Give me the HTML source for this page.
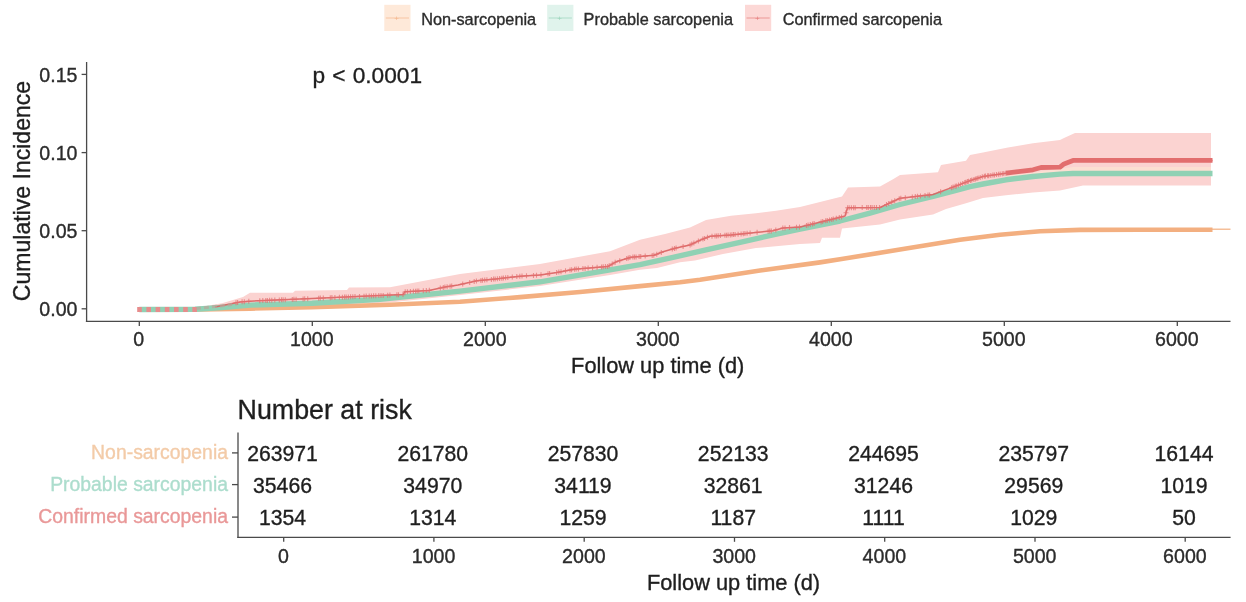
<!DOCTYPE html>
<html lang="en"><head><meta charset="utf-8"><title>Cumulative incidence</title>
<style>html,body{margin:0;padding:0;background:#fff}svg{display:block;filter:blur(0.4px)}text{font-family:"Liberation Sans", Arial, sans-serif;}text{stroke-width:0.35px;paint-order:stroke}</style></head><body>
<svg width="1246" height="602" viewBox="0 0 1246 602">
<rect width="1246" height="602" fill="#fff"/>
<rect x="384.3" y="4.8" width="26.2" height="26.2" fill="#FEE9D9"/>
<line x1="385.8" y1="18.0" x2="409.0" y2="18.0" stroke="#F3AF80" stroke-width="1.2" opacity="0.5"/>
<text x="396.7" y="21.4" font-size="8" text-anchor="middle" fill="#F3AF80" opacity="0.8">+</text>
<text x="421.2" y="24.6" font-size="16.3" fill="#2b2b2b" stroke="#2b2b2b">Non-sarcopenia</text>
<rect x="547.2" y="4.8" width="26.2" height="26.2" fill="#E0F3EC"/>
<line x1="548.7" y1="18.0" x2="571.9000000000001" y2="18.0" stroke="#90D1B4" stroke-width="1.2" opacity="0.5"/>
<text x="559.6" y="21.4" font-size="8" text-anchor="middle" fill="#90D1B4" opacity="0.8">+</text>
<text x="583.6" y="24.6" font-size="16.3" fill="#2b2b2b" stroke="#2b2b2b">Probable sarcopenia</text>
<rect x="745.0" y="4.8" width="26.2" height="26.2" fill="#FCD8D6"/>
<line x1="746.5" y1="18.0" x2="769.7" y2="18.0" stroke="#E26E6E" stroke-width="1.2" opacity="0.5"/>
<text x="757.4" y="21.4" font-size="8" text-anchor="middle" fill="#E26E6E" opacity="0.8">+</text>
<text x="782.7" y="24.6" font-size="16.3" fill="#2b2b2b" stroke="#2b2b2b">Confirmed sarcopenia</text>
<polygon points="139.3,307.4 200.0,307.0 222.0,303.2 243.0,297.0 250.0,292.8 293.0,292.8 295.0,290.7 347.0,290.1 349.0,287.6 390.0,287.2 460.0,273.9 540.0,263.9 610.0,251.2 640.0,239.8 665.0,234.0 690.0,227.4 706.0,219.9 731.0,215.7 756.0,213.3 776.0,210.8 800.0,207.0 830.0,199.5 842.0,196.6 848.0,187.4 880.0,186.6 893.0,179.3 900.0,175.0 938.0,172.3 941.0,164.9 966.0,160.7 970.0,154.9 983.0,152.4 1008.0,147.4 1033.0,143.3 1060.0,139.9 1064.0,137.9 1075.0,133.0 1211.0,133.0 1211.0,185.4 1083.0,185.4 1060.0,190.6 1033.0,192.6 1006.0,195.2 983.0,198.0 966.0,203.2 946.0,209.0 933.0,214.5 900.0,219.5 880.0,224.5 842.0,228.5 840.0,237.8 822.0,237.8 820.0,243.1 800.0,244.0 773.0,246.5 756.0,248.1 723.0,254.0 695.0,260.6 680.0,262.3 657.0,268.0 640.0,269.7 610.0,275.0 540.0,286.0 460.0,295.0 390.0,302.5 312.0,305.5 250.0,308.0 139.3,312.0" fill="#FBD3D1"/>
<polygon points="1006,176 1040,171.5 1073,167 1211,167 1211,171 1073,171 1040,174 1006,178" fill="#FCDFD2"/>
<polyline points="139.3,309.6 200.0,309.4 250.0,308.6 312.0,307.1 390.0,304.7 460.0,301.8 520.0,297.1 580.0,292.0 640.0,286.1 680.0,282.2 700.0,279.7 760.0,270.6 820.0,262.4 840.0,259.3 900.0,249.6 960.0,239.8 1000.0,234.7 1040.0,231.3 1080.0,229.9 1140.0,229.7 1212.5,229.7" fill="none" stroke="#F3AF80" stroke-width="4.6" stroke-linejoin="round"/>
<line x1="1212" y1="229.2" x2="1230.5" y2="229.2" stroke="#F3AF80" stroke-width="1.2"/>
<polyline points="139.3,309.5 195.0,309.3 222.0,307.5 250.0,305.1 312.0,303.2 380.0,299.3 460.0,291.1 540.0,281.8 610.0,269.8 640.0,264.6 673.0,257.3 706.0,249.8 740.0,242.3 773.0,234.9 800.0,229.1 840.0,221.0 870.0,213.1 900.0,204.5 933.0,196.5 955.0,190.6 970.0,186.6 983.0,184.0 1006.0,179.8 1033.0,176.5 1060.0,174.1 1073.0,173.5 1212.5,173.5" fill="none" stroke="#90D1B4" stroke-width="5.4" stroke-linejoin="round"/>
<polyline points="215.0,307.0 240.0,302.0 250.0,301.2 312.0,298.5 385.0,295.3 403.0,294.6 405.0,291.8 429.0,290.4 445.0,287.0 458.0,285.1 477.0,280.8 496.0,278.9 520.0,276.2 540.0,275.0 557.0,272.4 574.0,269.3 608.0,266.4 616.0,261.8 631.0,257.3 654.0,255.3 663.0,251.7 676.0,248.0 690.0,244.9 700.0,240.2 710.0,236.3 731.0,234.9 756.0,232.4 773.0,230.7 783.0,228.0 800.0,227.0 830.0,219.8 845.0,216.0 847.5,207.7 880.0,207.5 900.0,198.3 933.0,194.5 955.0,186.4 970.0,180.6 983.0,176.5 1006.0,173.2 1033.0,169.8 1041.0,167.5 1060.0,167.2 1064.0,163.9 1073.0,160.4 1212.5,160.4" fill="none" stroke="#D9605F" stroke-width="1.5" stroke-linejoin="round" opacity="0.9"/>
<path d="M236.0 300.3v5M233.5 302.8h5M237.6 300.0v5M235.1 302.5h5M242.1 299.3v5M239.6 301.8h5M244.3 299.2v5M241.8 301.7h5M248.8 298.8v5M246.3 301.3h5M259.8 298.3v5M257.3 300.8h5M262.8 298.1v5M260.3 300.6h5M265.8 298.0v5M263.3 300.5h5M267.4 297.9v5M264.9 300.4h5M269.6 297.8v5M267.1 300.3h5M271.8 297.8v5M269.3 300.3h5M274.8 297.6v5M272.3 300.1h5M279.3 297.4v5M276.8 299.9h5M281.5 297.3v5M279.0 299.8h5M283.1 297.3v5M280.6 299.8h5M285.3 297.2v5M282.8 299.7h5M292.3 296.9v5M289.8 299.4h5M293.9 296.8v5M291.4 299.3h5M296.1 296.7v5M293.6 299.2h5M303.1 296.4v5M300.6 298.9h5M304.7 296.3v5M302.2 298.8h5M307.7 296.2v5M305.2 298.7h5M318.7 295.7v5M316.2 298.2h5M320.3 295.6v5M317.8 298.1h5M323.3 295.5v5M320.8 298.0h5M330.3 295.2v5M327.8 297.7h5M331.9 295.1v5M329.4 297.6h5M334.9 295.0v5M332.4 297.5h5M339.4 294.8v5M336.9 297.3h5M342.4 294.7v5M339.9 297.2h5M344.6 294.6v5M342.1 297.1h5M346.2 294.5v5M343.7 297.0h5M348.4 294.4v5M345.9 296.9h5M350.6 294.3v5M348.1 296.8h5M352.8 294.2v5M350.3 296.7h5M355.0 294.1v5M352.5 296.6h5M359.5 293.9v5M357.0 296.4h5M364.0 293.7v5M361.5 296.2h5M366.2 293.6v5M363.7 296.1h5M369.2 293.5v5M366.7 296.0h5M371.4 293.4v5M368.9 295.9h5M373.6 293.3v5M371.1 295.8h5M375.8 293.2v5M373.3 295.7h5M378.8 293.1v5M376.3 295.6h5M381.0 293.0v5M378.5 295.5h5M383.2 292.9v5M380.7 295.4h5M387.7 292.7v5M385.2 295.2h5M389.9 292.6v5M387.4 295.1h5M396.9 292.3v5M394.4 294.8h5M398.5 292.3v5M396.0 294.8h5M403.0 292.1v5M400.5 294.6h5M405.2 289.3v5M402.7 291.8h5M407.4 289.2v5M404.9 291.7h5M410.4 289.0v5M407.9 291.5h5M413.4 288.8v5M410.9 291.3h5M415.6 288.7v5M413.1 291.2h5M417.2 288.6v5M414.7 291.1h5M418.8 288.5v5M416.3 291.0h5M423.3 288.2v5M420.8 290.7h5M426.3 288.1v5M423.8 290.6h5M429.3 287.8v5M426.8 290.3h5M440.3 285.5v5M437.8 288.0h5M443.3 284.9v5M440.8 287.4h5M444.9 284.5v5M442.4 287.0h5M447.1 284.2v5M444.6 286.7h5M450.1 283.8v5M447.6 286.3h5M451.7 283.5v5M449.2 286.0h5M462.7 281.5v5M460.2 284.0h5M469.7 280.0v5M467.2 282.5h5M474.2 278.9v5M471.7 281.4h5M476.4 278.4v5M473.9 280.9h5M480.9 277.9v5M478.4 280.4h5M482.5 277.8v5M480.0 280.2h5M484.7 277.5v5M482.2 280.0h5M486.9 277.3v5M484.4 279.8h5M491.4 276.9v5M488.9 279.4h5M493.6 276.6v5M491.1 279.1h5M495.2 276.5v5M492.7 279.0h5M497.4 276.2v5M494.9 278.7h5M499.6 276.0v5M497.1 278.5h5M501.8 275.7v5M499.3 278.2h5M503.4 275.6v5M500.9 278.1h5M505.6 275.3v5M503.1 277.8h5M507.8 275.1v5M505.3 277.6h5M512.3 274.6v5M509.8 277.1h5M516.8 274.1v5M514.3 276.6h5M519.8 273.7v5M517.3 276.2h5M522.0 273.6v5M519.5 276.1h5M526.5 273.3v5M524.0 275.8h5M533.5 272.9v5M531.0 275.4h5M536.5 272.7v5M534.0 275.2h5M541.0 272.3v5M538.5 274.8h5M548.0 271.3v5M545.5 273.8h5M549.6 271.0v5M547.1 273.5h5M556.6 270.0v5M554.1 272.5h5M558.8 269.6v5M556.3 272.1h5M561.0 269.2v5M558.5 271.7h5M565.5 268.3v5M563.0 270.8h5M570.0 267.5v5M567.5 270.0h5M571.6 267.2v5M569.1 269.7h5M574.6 266.7v5M572.1 269.2h5M576.2 266.6v5M573.7 269.1h5M578.4 266.4v5M575.9 268.9h5M582.9 266.0v5M580.4 268.5h5M585.1 265.9v5M582.6 268.4h5M588.1 265.6v5M585.6 268.1h5M592.6 265.2v5M590.1 267.7h5M597.1 264.8v5M594.6 267.3h5M601.6 264.4v5M599.1 266.9h5M603.2 264.3v5M600.7 266.8h5M605.4 264.1v5M602.9 266.6h5M607.6 263.9v5M605.1 266.4h5M609.2 263.2v5M606.7 265.7h5M612.2 261.5v5M609.7 264.0h5M615.2 259.8v5M612.7 262.3h5M619.7 258.2v5M617.2 260.7h5M626.7 256.1v5M624.2 258.6h5M628.3 255.6v5M625.8 258.1h5M629.9 255.1v5M627.4 257.6h5M632.9 254.6v5M630.4 257.1h5M634.5 254.5v5M632.0 257.0h5M636.1 254.4v5M633.6 256.9h5M639.1 254.1v5M636.6 256.6h5M640.7 254.0v5M638.2 256.5h5M645.2 253.6v5M642.7 256.1h5M652.2 253.0v5M649.7 255.5h5M653.8 252.8v5M651.3 255.3h5M656.8 251.7v5M654.3 254.2h5M661.3 249.9v5M658.8 252.4h5M672.3 246.6v5M669.8 249.1h5M674.5 245.9v5M672.0 248.4h5M676.1 245.5v5M673.6 248.0h5M683.1 243.9v5M680.6 246.4h5M690.1 242.4v5M687.6 244.9h5M691.7 241.6v5M689.2 244.1h5M693.9 240.6v5M691.4 243.1h5M698.4 238.5v5M695.9 241.0h5M702.9 236.6v5M700.4 239.1h5M704.5 235.9v5M702.0 238.4h5M707.5 234.8v5M705.0 237.3h5M712.0 233.7v5M709.5 236.2h5M715.0 233.5v5M712.5 236.0h5M716.6 233.4v5M714.1 235.9h5M718.2 233.3v5M715.7 235.8h5M720.4 233.1v5M717.9 235.6h5M724.9 232.8v5M722.4 235.3h5M726.5 232.7v5M724.0 235.2h5M728.1 232.6v5M725.6 235.1h5M730.3 232.4v5M727.8 234.9h5M731.9 232.3v5M729.4 234.8h5M733.5 232.1v5M731.0 234.6h5M735.1 232.0v5M732.6 234.5h5M738.1 231.7v5M735.6 234.2h5M741.1 231.4v5M738.6 233.9h5M743.3 231.2v5M740.8 233.7h5M744.9 231.0v5M742.4 233.5h5M747.1 230.8v5M744.6 233.3h5M750.1 230.5v5M747.6 233.0h5M757.1 229.8v5M754.6 232.3h5M768.1 228.7v5M765.6 231.2h5M769.7 228.5v5M767.2 231.0h5M771.3 228.4v5M768.8 230.9h5M775.8 227.4v5M773.3 229.9h5M782.8 225.6v5M780.3 228.1h5M785.0 225.4v5M782.5 227.9h5M789.5 225.1v5M787.0 227.6h5M796.5 224.7v5M794.0 227.2h5M799.5 224.5v5M797.0 227.0h5M806.5 222.9v5M804.0 225.4h5M808.1 222.6v5M805.6 225.1h5M810.3 222.0v5M807.8 224.5h5M812.5 221.5v5M810.0 224.0h5M814.1 221.1v5M811.6 223.6h5M821.1 219.4v5M818.6 221.9h5M822.7 219.1v5M820.2 221.6h5M825.7 218.3v5M823.2 220.8h5M827.3 217.9v5M824.8 220.4h5M829.5 217.4v5M827.0 219.9h5M831.7 216.9v5M829.2 219.4h5M833.3 216.5v5M830.8 219.0h5M836.3 215.7v5M833.8 218.2h5M839.3 214.9v5M836.8 217.4h5M841.5 214.4v5M839.0 216.9h5M846.0 210.2v5M843.5 212.7h5M847.6 205.2v5M845.1 207.7h5M849.2 205.2v5M846.7 207.7h5M851.4 205.2v5M848.9 207.7h5M853.6 205.2v5M851.1 207.7h5M855.2 205.2v5M852.7 207.7h5M862.2 205.1v5M859.7 207.6h5M866.7 205.1v5M864.2 207.6h5M868.3 205.1v5M865.8 207.6h5M870.5 205.1v5M868.0 207.6h5M872.1 205.0v5M869.6 207.5h5M874.3 205.0v5M871.8 207.5h5M876.5 205.0v5M874.0 207.5h5M879.5 205.0v5M877.0 207.5h5M886.5 202.0v5M884.0 204.5h5M888.7 201.0v5M886.2 203.5h5M891.7 199.6v5M889.2 202.1h5M894.7 198.2v5M892.2 200.7h5M899.2 196.2v5M896.7 198.7h5M900.8 195.7v5M898.3 198.2h5M905.3 195.2v5M902.8 197.7h5M912.3 194.4v5M909.8 196.9h5M915.3 194.0v5M912.8 196.5h5M917.5 193.8v5M915.0 196.3h5M920.5 193.4v5M918.0 195.9h5M925.0 192.9v5M922.5 195.4h5M928.0 192.6v5M925.5 195.1h5M929.6 192.4v5M927.1 194.9h5M940.6 189.2v5M938.1 191.7h5M951.6 185.2v5M949.1 187.7h5M953.1 184.6v5M950.6 187.1h5M955.2 183.8v5M952.7 186.3h5M956.4 183.4v5M953.9 185.9h5M958.5 182.6v5M956.0 185.1h5M960.6 181.8v5M958.1 184.3h5M962.7 180.9v5M960.2 183.4h5M964.8 180.1v5M962.3 182.6h5M965.9 179.7v5M963.4 182.2h5M967.4 179.1v5M964.9 181.6h5M968.5 178.7v5M966.0 181.2h5M970.6 177.9v5M968.1 180.4h5M971.8 177.5v5M969.3 180.0h5M973.9 176.9v5M971.4 179.4h5M975.4 176.4v5M972.9 178.9h5M976.9 175.9v5M974.4 178.4h5M978.1 175.6v5M975.6 178.1h5M980.2 174.9v5M977.7 177.4h5M982.3 174.2v5M979.8 176.7h5M984.4 173.8v5M981.9 176.3h5M985.5 173.6v5M983.0 176.1h5M987.6 173.3v5M985.1 175.8h5M988.7 173.2v5M986.2 175.7h5M990.8 172.9v5M988.3 175.4h5M992.9 172.6v5M990.4 175.1h5M994.4 172.4v5M991.9 174.9h5M996.5 172.1v5M994.0 174.6h5M998.6 171.8v5M996.1 174.3h5M1000.2 171.5v5M997.7 174.0h5M1002.3 171.2v5M999.8 173.7h5M1003.8 171.0v5M1001.3 173.5h5M1005.9 170.7v5M1003.4 173.2h5" fill="none" stroke="#E26E6E" stroke-width="1.1" opacity="0.7"/>
<polyline points="1006.0,173.2 1033.0,169.8 1041.0,167.5 1060.0,167.2 1064.0,163.9 1073.0,160.4 1212.5,160.4" fill="none" stroke="#E26E6E" stroke-width="4.8" stroke-linejoin="round"/>
<line x1="137.2" y1="309.5" x2="198" y2="309.5" stroke="#E78C8C" stroke-width="4.9" stroke-dasharray="4.6 4.6"/>
<line x1="196" y1="308.6" x2="232" y2="304.6" stroke="#B9A79A" stroke-width="3" stroke-dasharray="5 3" opacity="0.7"/>
<line x1="86.6" y1="62" x2="86.6" y2="322.09999999999997" stroke="#4a4a4a" stroke-width="1.3"/>
<line x1="85.89999999999999" y1="321.4" x2="1230.5" y2="321.4" stroke="#4a4a4a" stroke-width="1.3"/>
<line x1="81.6" y1="74.4" x2="86.6" y2="74.4" stroke="#4a4a4a" stroke-width="1.3"/>
<text x="77.5" y="81.5" font-size="19.6" text-anchor="end" fill="#2b2b2b" stroke="#2b2b2b">0.15</text>
<line x1="81.6" y1="152.6" x2="86.6" y2="152.6" stroke="#4a4a4a" stroke-width="1.3"/>
<text x="77.5" y="159.7" font-size="19.6" text-anchor="end" fill="#2b2b2b" stroke="#2b2b2b">0.10</text>
<line x1="81.6" y1="230.7" x2="86.6" y2="230.7" stroke="#4a4a4a" stroke-width="1.3"/>
<text x="77.5" y="237.79999999999998" font-size="19.6" text-anchor="end" fill="#2b2b2b" stroke="#2b2b2b">0.05</text>
<line x1="81.6" y1="308.8" x2="86.6" y2="308.8" stroke="#4a4a4a" stroke-width="1.3"/>
<text x="77.5" y="315.90000000000003" font-size="19.6" text-anchor="end" fill="#2b2b2b" stroke="#2b2b2b">0.00</text>
<line x1="139.3" y1="321.4" x2="139.3" y2="325.9" stroke="#4a4a4a" stroke-width="1.3"/>
<text x="138.8" y="346.2" font-size="19.6" text-anchor="middle" fill="#2b2b2b" stroke="#2b2b2b">0</text>
<line x1="312.3" y1="321.4" x2="312.3" y2="325.9" stroke="#4a4a4a" stroke-width="1.3"/>
<text x="311.8" y="346.2" font-size="19.6" text-anchor="middle" fill="#2b2b2b" stroke="#2b2b2b">1000</text>
<line x1="485.3" y1="321.4" x2="485.3" y2="325.9" stroke="#4a4a4a" stroke-width="1.3"/>
<text x="484.8" y="346.2" font-size="19.6" text-anchor="middle" fill="#2b2b2b" stroke="#2b2b2b">2000</text>
<line x1="658.3" y1="321.4" x2="658.3" y2="325.9" stroke="#4a4a4a" stroke-width="1.3"/>
<text x="657.8" y="346.2" font-size="19.6" text-anchor="middle" fill="#2b2b2b" stroke="#2b2b2b">3000</text>
<line x1="831.3" y1="321.4" x2="831.3" y2="325.9" stroke="#4a4a4a" stroke-width="1.3"/>
<text x="830.8" y="346.2" font-size="19.6" text-anchor="middle" fill="#2b2b2b" stroke="#2b2b2b">4000</text>
<line x1="1004.3" y1="321.4" x2="1004.3" y2="325.9" stroke="#4a4a4a" stroke-width="1.3"/>
<text x="1003.8" y="346.2" font-size="19.6" text-anchor="middle" fill="#2b2b2b" stroke="#2b2b2b">5000</text>
<line x1="1177.3" y1="321.4" x2="1177.3" y2="325.9" stroke="#4a4a4a" stroke-width="1.3"/>
<text x="1176.8" y="346.2" font-size="19.6" text-anchor="middle" fill="#2b2b2b" stroke="#2b2b2b">6000</text>
<text x="657.7" y="372.7" font-size="21.8" text-anchor="middle" fill="#1e1e1e" stroke="#1e1e1e">Follow up time (d)</text>
<text transform="translate(29.7,191) rotate(-90) scale(1,1.045)" font-size="23.05" text-anchor="middle" fill="#1e1e1e" stroke="#1e1e1e">Cumulative Incidence</text>
<text x="312.4" y="83.3" font-size="22.7" word-spacing="0.9" fill="#1e1e1e" stroke="#1e1e1e">p &lt; 0.0001</text>
<text x="237.6" y="419.0" font-size="26.8" fill="#1e1e1e" stroke="#1e1e1e">Number at risk</text>
<line x1="238.0" y1="432.4" x2="238.0" y2="538.0" stroke="#4a4a4a" stroke-width="1.3"/>
<line x1="237.3" y1="537.3" x2="1230.6" y2="537.3" stroke="#4a4a4a" stroke-width="1.3"/>
<line x1="232.0" y1="452.9" x2="238.0" y2="452.9" stroke="#4a4a4a" stroke-width="1.3"/>
<text x="228.0" y="458.8" font-size="19.4" text-anchor="end" fill="#F3CBA8" stroke="#F3CBA8">Non-sarcopenia</text>
<text x="282.5" y="461.2" font-size="21.2" text-anchor="middle" fill="#1e1e1e" stroke="#1e1e1e">263971</text>
<text x="432.8" y="461.2" font-size="21.2" text-anchor="middle" fill="#1e1e1e" stroke="#1e1e1e">261780</text>
<text x="583.0" y="461.2" font-size="21.2" text-anchor="middle" fill="#1e1e1e" stroke="#1e1e1e">257830</text>
<text x="733.2" y="461.2" font-size="21.2" text-anchor="middle" fill="#1e1e1e" stroke="#1e1e1e">252133</text>
<text x="883.5" y="461.2" font-size="21.2" text-anchor="middle" fill="#1e1e1e" stroke="#1e1e1e">244695</text>
<text x="1033.8" y="461.2" font-size="21.2" text-anchor="middle" fill="#1e1e1e" stroke="#1e1e1e">235797</text>
<text x="1184.0" y="461.2" font-size="21.2" text-anchor="middle" fill="#1e1e1e" stroke="#1e1e1e">16144</text>
<line x1="232.0" y1="484.6" x2="238.0" y2="484.6" stroke="#4a4a4a" stroke-width="1.3"/>
<text x="228.0" y="490.5" font-size="19.4" text-anchor="end" fill="#ACDDCD" stroke="#ACDDCD">Probable sarcopenia</text>
<text x="282.5" y="492.9" font-size="21.2" text-anchor="middle" fill="#1e1e1e" stroke="#1e1e1e">35466</text>
<text x="432.8" y="492.9" font-size="21.2" text-anchor="middle" fill="#1e1e1e" stroke="#1e1e1e">34970</text>
<text x="583.0" y="492.9" font-size="21.2" text-anchor="middle" fill="#1e1e1e" stroke="#1e1e1e">34119</text>
<text x="733.2" y="492.9" font-size="21.2" text-anchor="middle" fill="#1e1e1e" stroke="#1e1e1e">32861</text>
<text x="883.5" y="492.9" font-size="21.2" text-anchor="middle" fill="#1e1e1e" stroke="#1e1e1e">31246</text>
<text x="1033.8" y="492.9" font-size="21.2" text-anchor="middle" fill="#1e1e1e" stroke="#1e1e1e">29569</text>
<text x="1184.0" y="492.9" font-size="21.2" text-anchor="middle" fill="#1e1e1e" stroke="#1e1e1e">1019</text>
<line x1="232.0" y1="517.1" x2="238.0" y2="517.1" stroke="#4a4a4a" stroke-width="1.3"/>
<text x="228.0" y="523.0" font-size="19.4" text-anchor="end" fill="#E99898" stroke="#E99898">Confirmed sarcopenia</text>
<text x="282.5" y="525.4" font-size="21.2" text-anchor="middle" fill="#1e1e1e" stroke="#1e1e1e">1354</text>
<text x="432.8" y="525.4" font-size="21.2" text-anchor="middle" fill="#1e1e1e" stroke="#1e1e1e">1314</text>
<text x="583.0" y="525.4" font-size="21.2" text-anchor="middle" fill="#1e1e1e" stroke="#1e1e1e">1259</text>
<text x="733.2" y="525.4" font-size="21.2" text-anchor="middle" fill="#1e1e1e" stroke="#1e1e1e">1187</text>
<text x="883.5" y="525.4" font-size="21.2" text-anchor="middle" fill="#1e1e1e" stroke="#1e1e1e">1111</text>
<text x="1033.8" y="525.4" font-size="21.2" text-anchor="middle" fill="#1e1e1e" stroke="#1e1e1e">1029</text>
<text x="1184.0" y="525.4" font-size="21.2" text-anchor="middle" fill="#1e1e1e" stroke="#1e1e1e">50</text>
<line x1="283.7" y1="537.3" x2="283.7" y2="541.8" stroke="#4a4a4a" stroke-width="1.3"/>
<text x="283.4" y="563.2" font-size="19.6" text-anchor="middle" fill="#2b2b2b" stroke="#2b2b2b">0</text>
<line x1="433.9" y1="537.3" x2="433.9" y2="541.8" stroke="#4a4a4a" stroke-width="1.3"/>
<text x="433.6" y="563.2" font-size="19.6" text-anchor="middle" fill="#2b2b2b" stroke="#2b2b2b">1000</text>
<line x1="584.2" y1="537.3" x2="584.2" y2="541.8" stroke="#4a4a4a" stroke-width="1.3"/>
<text x="583.9" y="563.2" font-size="19.6" text-anchor="middle" fill="#2b2b2b" stroke="#2b2b2b">2000</text>
<line x1="734.5" y1="537.3" x2="734.5" y2="541.8" stroke="#4a4a4a" stroke-width="1.3"/>
<text x="734.2" y="563.2" font-size="19.6" text-anchor="middle" fill="#2b2b2b" stroke="#2b2b2b">3000</text>
<line x1="884.7" y1="537.3" x2="884.7" y2="541.8" stroke="#4a4a4a" stroke-width="1.3"/>
<text x="884.4" y="563.2" font-size="19.6" text-anchor="middle" fill="#2b2b2b" stroke="#2b2b2b">4000</text>
<line x1="1035.0" y1="537.3" x2="1035.0" y2="541.8" stroke="#4a4a4a" stroke-width="1.3"/>
<text x="1034.7" y="563.2" font-size="19.6" text-anchor="middle" fill="#2b2b2b" stroke="#2b2b2b">5000</text>
<line x1="1185.2" y1="537.3" x2="1185.2" y2="541.8" stroke="#4a4a4a" stroke-width="1.3"/>
<text x="1184.9" y="563.2" font-size="19.6" text-anchor="middle" fill="#2b2b2b" stroke="#2b2b2b">6000</text>
<text x="733.5" y="589.7" font-size="21.8" text-anchor="middle" fill="#1e1e1e" stroke="#1e1e1e">Follow up time (d)</text>
</svg></body></html>
